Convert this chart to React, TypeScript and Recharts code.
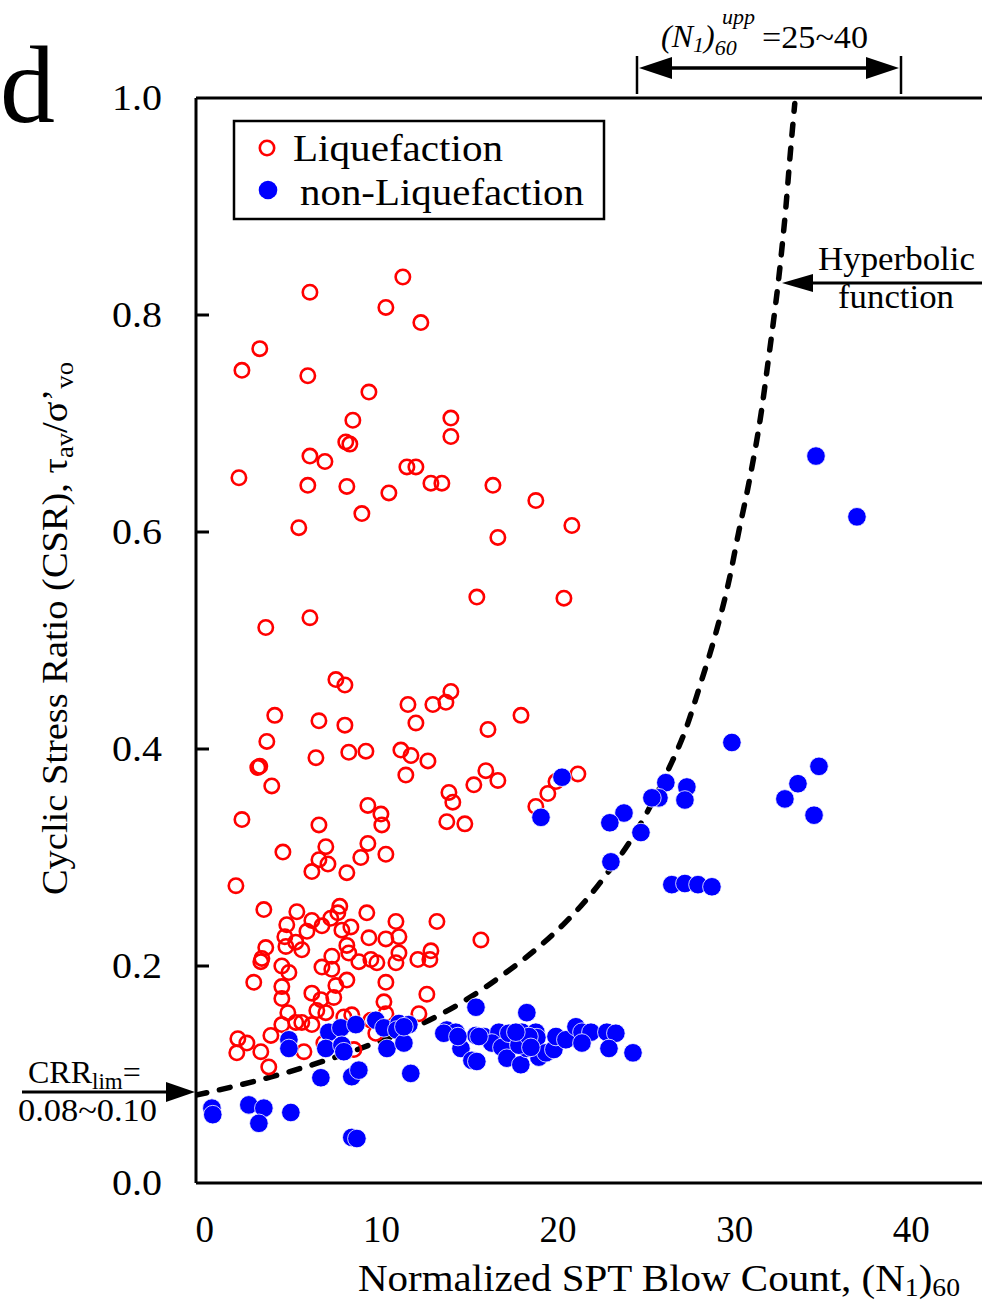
import React from 'react';
import { ScatterChart, Scatter, XAxis, YAxis, ReferenceLine } from 'recharts';

const W = 982;
const H = 1303;
const FONT = '"Liberation Serif", "Times New Roman", Times, serif';

const xTicks = [0, 10, 20, 30, 40];
const yTicks = [0, 0.2, 0.4, 0.6, 0.8, 1.0];

// Liquefaction cases (open red circles)
const liqX = [
  5.95, 11.21, 10.25, 3.11, 2.1, 5.83, 9.29, 8.38, 7.98, 8.21, 5.95, 6.8, 1.93, 5.83, 8.04, 10.42, 11.44, 11.95, 8.89, 5.32,
  12.23, 13.93, 13.93, 12.8, 13.42, 16.31, 18.74, 20.78, 16.59, 5.95, 3.45, 7.42, 7.93, 3.96, 6.46, 7.93, 3.51, 8.15, 9.12, 11.1,
  6.29, 3.0, 3.11, 3.79, 11.38, 2.1, 9.23, 9.97, 10.02, 6.46, 9.23, 4.42, 6.85, 10.25, 15.4, 20.33, 13.93, 13.65, 12.91, 11.5,
  11.95, 17.9, 16.03, 11.67, 12.63, 15.91, 16.59, 15.23, 13.82, 14.04, 13.7, 14.72, 21.12, 19.88, 19.42, 18.74, 6.46, 6.97, 6.06, 8.04,
  8.83, 1.76, 3.34, 5.21, 7.64, 7.53, 9.17, 10.82, 4.64, 6.06, 5.78, 6.63, 7.13, 7.76, 8.27, 4.53, 5.15, 4.59, 5.49, 3.45,
  3.23, 3.17, 8.04, 8.15, 7.19, 8.72, 9.4, 9.74, 9.29, 10.25, 10.99, 10.82, 10.99, 4.36, 4.76, 6.63, 7.19, 7.42, 8.04, 4.36,
  2.77, 4.36, 6.06, 6.57, 7.3, 6.34, 6.85, 10.25, 10.14, 4.7, 4.36, 5.15, 5.49, 6.06, 7.87, 8.32, 9.4, 10.25, 3.74, 1.87,
  2.38, 1.81, 3.17, 5.61, 3.62, 6.74, 9.68, 8.44, 13.14, 15.63, 12.8, 12.06, 12.74, 12.57, 12.12,
];
const liqY = [
  0.821, 0.835, 0.807, 0.769, 0.749, 0.744, 0.729, 0.703, 0.683, 0.681, 0.67, 0.665, 0.65, 0.643, 0.642, 0.636, 0.66, 0.66, 0.617, 0.604,
  0.793, 0.705, 0.688, 0.645, 0.645, 0.643, 0.629, 0.606, 0.595, 0.521, 0.512, 0.464, 0.459, 0.431, 0.426, 0.422, 0.407, 0.397, 0.398, 0.399,
  0.392, 0.383, 0.384, 0.366, 0.376, 0.335, 0.348, 0.34, 0.33, 0.33, 0.313, 0.305, 0.31, 0.303, 0.54, 0.539, 0.453, 0.443, 0.441, 0.441,
  0.424, 0.431, 0.418, 0.394, 0.389, 0.38, 0.371, 0.367, 0.36, 0.351, 0.333, 0.331, 0.377, 0.37, 0.359, 0.347, 0.298, 0.294, 0.287, 0.286,
  0.3, 0.274, 0.252, 0.25, 0.255, 0.249, 0.249, 0.241, 0.238, 0.242, 0.232, 0.237, 0.244, 0.233, 0.236, 0.227, 0.222, 0.218, 0.215, 0.217,
  0.207, 0.204, 0.219, 0.212, 0.209, 0.204, 0.206, 0.203, 0.226, 0.225, 0.227, 0.203, 0.212, 0.2, 0.194, 0.199, 0.197, 0.182, 0.187, 0.181,
  0.185, 0.17, 0.175, 0.169, 0.171, 0.159, 0.157, 0.185, 0.167, 0.157, 0.146, 0.148, 0.148, 0.146, 0.153, 0.155, 0.15, 0.156, 0.136, 0.133,
  0.129, 0.12, 0.121, 0.121, 0.107, 0.129, 0.138, 0.123, 0.241, 0.224, 0.214, 0.206, 0.206, 0.174, 0.156,
];

// non-Liquefaction cases (filled blue circles)
const nonLiqX = [
  0.4, 0.45, 2.49, 3.34, 3.06, 4.87, 8.32, 8.61, 6.57, 8.32, 8.72, 11.66, 4.76, 4.76, 7.02, 7.7, 8.55, 6.85, 7.76, 7.87,
  9.68, 10.14, 10.99, 10.87, 11.55, 10.31, 11.27, 15.35, 18.23, 13.7, 14.21, 14.5, 15.35, 15.8, 15.12, 15.4, 16.65, 16.25, 16.82, 17.21,
  17.95, 18.74, 18.8, 17.1, 17.89, 18.91, 19.31, 19.76, 19.88, 20.44, 21.01, 21.35, 21.86, 21.35, 22.76, 23.27, 22.88, 24.24, 18.23, 17.78,
  18.35, 11.27, 13.53, 14.33, 15.52, 17.61, 18.46, 34.6, 36.92, 29.84, 34.77, 33.58, 32.84, 34.49, 26.1, 27.29, 27.18, 25.71, 25.31, 23.73,
  22.93, 24.69, 22.99, 26.44, 27.18, 27.92, 28.71, 20.22, 19.03,
];
const nonLiqY = [
  0.069, 0.063, 0.072, 0.069, 0.055, 0.065, 0.042, 0.041, 0.097, 0.098, 0.104, 0.101, 0.132, 0.124, 0.139, 0.143, 0.146, 0.124, 0.127, 0.121,
  0.15, 0.143, 0.147, 0.141, 0.146, 0.124, 0.129, 0.162, 0.157, 0.141, 0.139, 0.124, 0.136, 0.135, 0.113, 0.112, 0.139, 0.129, 0.125, 0.138,
  0.139, 0.139, 0.134, 0.115, 0.109, 0.116, 0.12, 0.123, 0.135, 0.132, 0.144, 0.139, 0.139, 0.129, 0.139, 0.138, 0.124, 0.12, 0.124, 0.127,
  0.135, 0.144, 0.138, 0.135, 0.135, 0.139, 0.125, 0.67, 0.614, 0.406, 0.384, 0.368, 0.354, 0.339, 0.369, 0.365, 0.353, 0.355, 0.355, 0.341,
  0.332, 0.323, 0.296, 0.275, 0.276, 0.275, 0.273, 0.374, 0.337,
];

// hyperbolic boundary
const curveX = [-0.5, 3.8, 7.4, 9.3, 12.7, 15.1, 16.8, 18.5, 20.4, 21.6, 22.9, 24.0, 26.3, 27.2, 28.1, 28.9, 29.7, 30.2, 30.8, 31.5, 31.9, 32.2, 32.5, 32.7, 32.9, 33.1, 33.4];
const curveY = [0.081, 0.098, 0.116, 0.127, 0.15, 0.172, 0.191, 0.212, 0.24, 0.261, 0.288, 0.313, 0.383, 0.417, 0.462, 0.505, 0.557, 0.598, 0.645, 0.71, 0.758, 0.795, 0.835, 0.866, 0.9, 0.94, 0.995];

const zip = (xs: number[], ys: number[]) => xs.map((x, i) => ({ x, y: ys[i] }));
const liqData = zip(liqX, liqY);
const nonLiqData = zip(nonLiqX, nonLiqY);
const curveData = zip(curveX, curveY);

const YTick = (props: any) => {
  const { x, y, payload } = props;
  const v = payload.value;
  return (
    <g>
      {v > 0.01 && v < 0.99 && <line x1={x} x2={x + 13} y1={y} y2={y} stroke="#000" strokeWidth={3} />}
      <text x={x - 84} y={y + 12} fontSize={36} fontFamily={FONT} fill="#000" textLength={50} lengthAdjust="spacingAndGlyphs">
        {v.toFixed(1)}
      </text>
    </g>
  );
};

const XTick = (props: any) => {
  const { x, y, payload } = props;
  return (
    <text x={x} y={y + 59} textAnchor="middle" fontSize={37} fontFamily={FONT} fill="#000">
      {payload.value}
    </text>
  );
};

const RedRing = (props: any) => (
  <circle cx={props.cx} cy={props.cy} r={7.2} fill="none" stroke="#ff0000" strokeWidth={2.6} />
);
const BlueDot = (props: any) => (
  <circle cx={props.cx} cy={props.cy} r={9.3} fill="#0000ff" stroke="#ffffff" strokeWidth={0.8} />
);
const NoDot = () => <g />;

const Overlay = () => (
  <svg width={W} height={H} style={{ position: 'absolute', left: 0, top: 0, pointerEvents: 'none' }} fontFamily={FONT}>
    {/* panel letter */}
    <text x={0} y={122} fontSize={110} fill="#000">d</text>

    {/* legend */}
    <rect x={234} y={121} width={370} height={98} fill="#fff" stroke="#000" strokeWidth={2.5} />
    <circle cx={267} cy={148} r={7.2} fill="none" stroke="#ff0000" strokeWidth={2.6} />
    <text x={293} y={161} fontSize={37} fill="#000" textLength={210} lengthAdjust="spacingAndGlyphs">Liquefaction</text>
    <circle cx={268} cy={190} r={9.3} fill="#0000ff" />
    <text x={300} y={205} fontSize={37} fill="#000" textLength={284} lengthAdjust="spacingAndGlyphs">non-Liquefaction</text>

    {/* upper bound annotation */}
    <text x={661} y={47} fontSize={32} fill="#000">
      <tspan fontStyle="italic">(N</tspan>
      <tspan fontStyle="italic" fontSize={22} dy={5}>1</tspan>
      <tspan fontStyle="italic" dy={-5}>)</tspan>
      <tspan fontStyle="italic" fontSize={22} dy={8}>60</tspan>
    </text>
    <text x={722} y={24} fontSize={22} fontStyle="italic" fill="#000">upp</text>
    <text x={762} y={48} fontSize={32} fill="#000" textLength={106} lengthAdjust="spacingAndGlyphs">=25~40</text>
    <line x1={637} x2={637} y1={56} y2={94} stroke="#000" strokeWidth={2.5} />
    <line x1={901} x2={901} y1={56} y2={94} stroke="#000" strokeWidth={2.5} />
    <line x1={660} x2={880} y1={68} y2={68} stroke="#000" strokeWidth={3.5} />
    <polygon points="639,68 672,57 672,79" fill="#000" />
    <polygon points="899,68 866,57 866,79" fill="#000" />

    {/* hyperbolic function annotation */}
    <text x={818} y={270} fontSize={34} fill="#000" textLength={157} lengthAdjust="spacingAndGlyphs">Hyperbolic</text>
    <text x={838} y={308} fontSize={34} fill="#000" textLength={116} lengthAdjust="spacingAndGlyphs">function</text>
    <line x1={805} x2={982} y1={283} y2={283} stroke="#000" strokeWidth={3} />
    <polygon points="782,283 813,274 813,292" fill="#000" />

    {/* CRR lim annotation */}
    <text x={28} y={1083} fontSize={32} fill="#000">
      CRR<tspan fontSize={23} dy={6}>lim</tspan><tspan dy={-6}>=</tspan>
    </text>
    <text x={18} y={1121} fontSize={32} fill="#000" textLength={139} lengthAdjust="spacingAndGlyphs">0.08~0.10</text>
    <line x1={22} x2={175} y1={1092} y2={1092} stroke="#000" strokeWidth={3} />
    <polygon points="195,1092 166,1082 166,1102" fill="#000" />

    {/* axis titles */}
    <text transform="translate(67,895) rotate(-90)" fontSize={36} fill="#000" textLength={533} lengthAdjust="spacingAndGlyphs">
      Cyclic Stress Ratio (CSR), τ<tspan fontSize={25} dy={6}>av</tspan><tspan dy={-6}>/σ’</tspan><tspan fontSize={25} dy={6}>vo</tspan>
    </text>
    <text x={358} y={1291} fontSize={37} fill="#000" textLength={602} lengthAdjust="spacingAndGlyphs">
      Normalized SPT Blow Count, (N<tspan fontSize={25} dy={5}>1</tspan><tspan dy={-5}>)</tspan><tspan fontSize={25} dy={5}>60</tspan>
    </text>
  </svg>
);

export default function App() {
  return (
    <div style={{ position: 'absolute', left: 0, top: 0, width: W, height: H, background: '#fff', overflow: 'hidden' }}>
      <ScatterChart width={W} height={H} margin={{ top: 98, right: 0, bottom: 60, left: 136 }}>
        <XAxis
          type="number"
          dataKey="x"
          domain={[-0.5, 44]}
          allowDataOverflow
          ticks={xTicks}
          height={60}
          axisLine={{ stroke: '#000', strokeWidth: 3 }}
          tickLine={false}
          tickSize={0}
          tickMargin={0}
          tick={<XTick />}
        />
        <YAxis
          type="number"
          dataKey="y"
          domain={[0, 1]}
          allowDataOverflow
          ticks={yTicks}
          width={60}
          axisLine={{ stroke: '#000', strokeWidth: 3 }}
          tickLine={false}
          tickSize={0}
          tickMargin={0}
          tick={<YTick />}
        />
        <ReferenceLine y={1} stroke="#000" strokeWidth={3} />
        <Scatter
          name="Hyperbolic function"
          data={curveData}
          line={{ stroke: '#000', strokeWidth: 5.5, strokeDasharray: '11 13', strokeLinecap: 'round' }}
          lineJointType="monotoneX"
          shape={<NoDot />}
          isAnimationActive={false}
        />
        <Scatter name="Liquefaction" data={liqData} shape={<RedRing />} isAnimationActive={false} />
        <Scatter name="non-Liquefaction" data={nonLiqData} shape={<BlueDot />} isAnimationActive={false} />
      </ScatterChart>
      <Overlay />
    </div>
  );
}
